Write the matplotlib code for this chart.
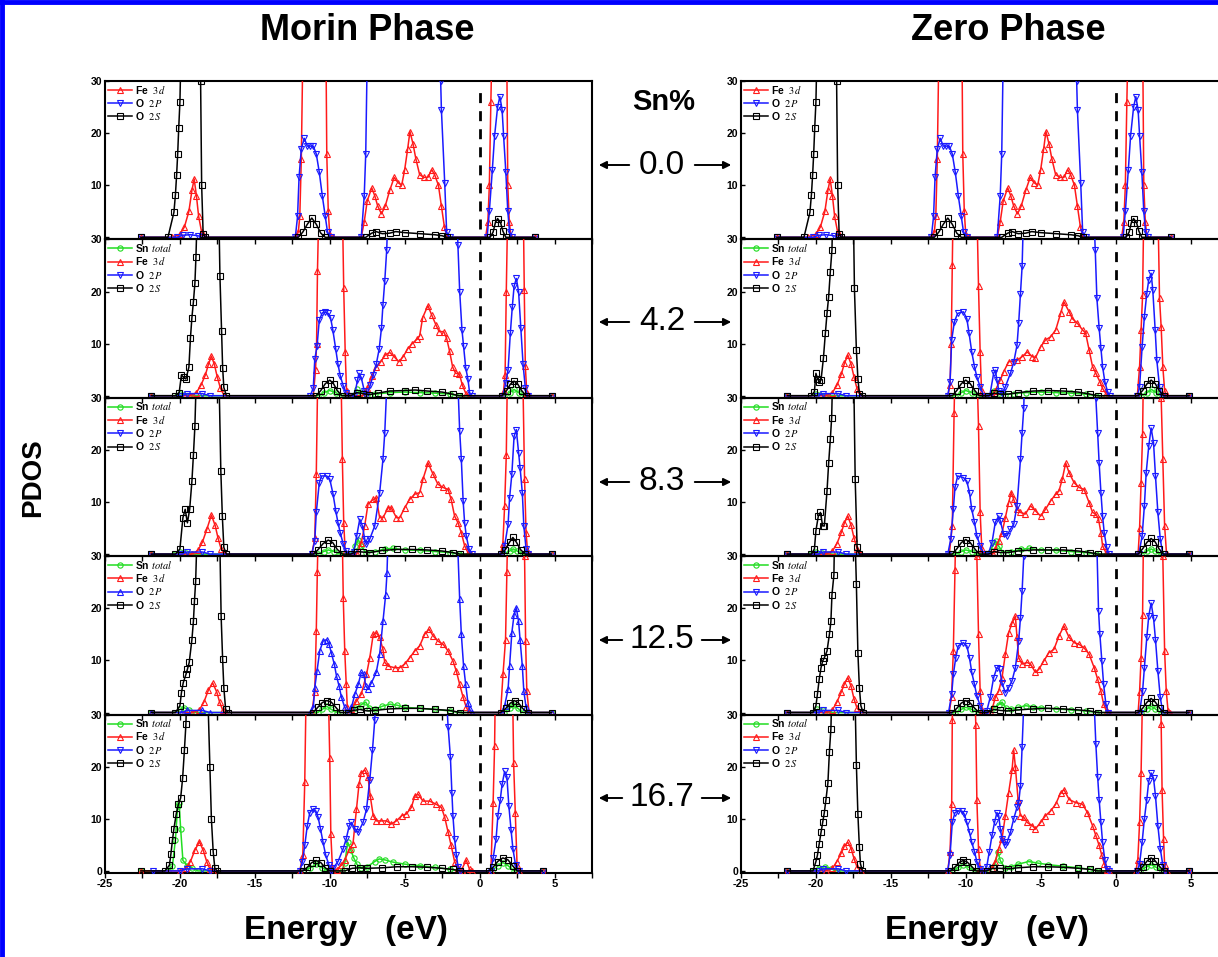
import matplotlib
matplotlib.use('Agg')
import matplotlib.pyplot as plt
from matplotlib.patches import FancyArrowPatch
from matplotlib.lines import Line2D

plt.rcParams['font.family'] = ['Liberation Sans', 'DejaVu Sans']
plt.rcParams['mathtext.fontset'] = 'stix'

# ---- data: (energy eV, PDOS); >30 means off scale ----
# Morin phase, 0.0 % Sn
m00_fe = [(-22.6,0),(-20.5,0),(-20.0,0.6),(-19.7,2),(-19.4,5),(-19.2,9),(-19.05,11.2),(-18.9,8),(-18.75,4),(-18.55,1),(-18.3,0),
          (-12.3,0),(-12.1,1),(-12.0,4),(-11.9,15),(-11.8,35),(-11.5,60),(-10.5,60),(-10.25,35),(-10.2,16),(-10.1,5),(-10.0,0.5),(-9.8,0),
          (-7.9,0),(-7.7,3),(-7.5,7),(-7.2,9.5),(-7.0,8),(-6.8,6),(-6.55,4.5),(-6.3,6),(-6.0,9),(-5.7,11.5),(-5.45,10.5),(-5.2,10),
          (-5.0,13),(-4.8,17),(-4.65,20.3),(-4.45,18),(-4.25,15),(-4.0,12),(-3.7,11.5),(-3.45,11.5),(-3.2,13),(-3.0,12),(-2.75,10),
          (-2.55,6),(-2.35,2),(-2.15,0),(0.4,0),(0.55,3),(0.65,10),(0.75,26),(0.85,40),(1.3,60),(1.8,40),(1.88,10),(1.98,3),(2.1,0),(3.7,0)]
m00_o2p = [(-22.6,0),(-20.2,0),(-19.8,0.4),(-19.3,0.5),(-18.8,0.3),(-18.5,0),(-12.3,0),(-12.15,4),(-12.05,11.5),(-11.9,17),(-11.7,19),
           (-11.5,17.5),(-11.3,17.5),(-11.1,17.5),(-10.9,16),(-10.7,12.5),(-10.5,8),(-10.3,4),(-10.15,1),(-9.9,0),(-7.9,0),(-7.7,8),
           (-7.6,16),(-7.5,35),(-7.2,60),(-3.0,60),(-2.6,30),(-2.55,24.5),(-2.33,10.5),(-2.2,1),(-2.0,0),(0.5,0),(0.65,5),(0.85,13),
           (1.0,19.5),(1.2,25),(1.35,27),(1.5,24.5),(1.6,19.5),(1.75,12.5),(1.88,5),(2.0,1),(2.15,0),(3.7,0)]
m00_o2s = [(-22.6,0),(-20.8,0),(-20.4,4.8),(-20.3,8.2),(-20.22,12),(-20.15,16),(-20.08,21),(-20.0,26),(-19.9,40),(-19.6,60),(-18.9,60),
           (-18.62,30),(-18.55,10),(-18.45,0.6),(-18.3,0),(-12.1,0),(-11.8,1),(-11.5,2.5),(-11.2,3.7),(-10.9,2.5),(-10.6,0.8),(-10.3,0),
           (-7.6,0),(-7.2,0.8),(-6.9,1.1),(-6.5,0.7),(-6.0,0.8),(-5.6,1.1),(-5.0,0.9),(-4.0,0.7),(-3.0,0.5),(-2.5,0.3),(-2.2,0),
           (0.7,0),(0.9,1),(1.05,2.8),(1.2,3.6),(1.4,2.8),(1.55,1.2),(1.75,0),(3.7,0)]

# Morin phase, 4.2 % Sn
m42_sn = [(-21.9,0),(-20.2,0),(-20.0,0.4),(-19.7,0.2),(-19.4,0),(-10.8,0),(-10.4,0.6),(-10.0,1.0),(-9.6,0.6),(-9.2,0),(-8.5,0),(-8.2,1.2),
          (-7.9,0.6),(-7.5,0.2),(-7.0,0.3),(-6.0,0.6),(-5.0,0.7),(-4.0,0.6),(-3.0,0.5),(-2.0,0.3),(-1.4,0),(1.6,0),(2.0,0.6),(2.3,1.2),
          (2.6,0.6),(3.0,0),(4.8,0)]
m42_fe = [(-21.9,0),(-19.3,0),(-18.9,0.6),(-18.6,2),(-18.3,4),(-18.1,6),(-17.9,7.6),(-17.7,6),(-17.5,3.5),(-17.3,1.5),(-17.05,0),
          (-11.1,0),(-10.95,5),(-10.88,10),(-10.82,24),(-10.7,40),(-10.3,60),(-9.4,60),(-9.15,35),(-9.07,20.7),(-8.97,8.3),(-8.88,1),
          (-8.7,0),(-7.8,0),(-7.5,1.5),(-7.2,3.8),(-6.9,5.5),(-6.6,6.5),(-6.3,7.8),(-6.0,8.3),(-5.7,7.5),(-5.4,6.5),(-5.1,7.5),(-4.8,9),
          (-4.5,10),(-4.2,10.8),(-4.0,11.5),(-3.8,15),(-3.45,17.3),(-3.2,15.5),(-2.9,13.5),(-2.7,12.3),(-2.4,12.3),(-2.2,11),(-2.0,8.5),
          (-1.8,5.5),(-1.6,4.3),(-1.35,4.2),(-1.15,2),(-0.9,0.3),(-0.7,0),(1.45,0),(1.6,1),(1.7,4),(1.78,20),(1.9,40),(2.3,60),(2.9,40),
          (2.98,20.3),(3.05,5.7),(3.15,0.5),(3.3,0),(4.8,0)]
m42_o2p = [(-21.9,0),(-19.9,0),(-19.5,0.4),(-18.5,0.4),(-18.0,0),(-11.3,0),(-11.1,1.5),(-11.0,7),(-10.85,9.5),(-10.7,14.5),(-10.5,15.9),
           (-10.3,16),(-10.1,15.8),(-9.95,15),(-9.8,12.7),(-9.6,8.9),(-9.45,6),(-9.3,3.8),(-9.1,1.9),(-8.9,0.5),(-8.6,0),(-8.35,0),
           (-8.15,3),(-8.05,4.3),(-7.9,3.5),(-7.7,1),(-7.55,0),(-7.3,2),(-7.1,4),(-6.9,6),(-6.7,9),(-6.55,13),(-6.45,17.5),(-6.33,22),
           (-6.2,28),(-6.0,45),(-5.5,60),(-2.0,60),(-1.55,40),(-1.45,29),(-1.33,20),(-1.18,12.7),(-1.07,9.5),(-0.93,5.4),(-0.78,3.2),
           (-0.67,0.6),(-0.5,0),(1.55,0),(1.75,2.5),(1.9,5),(2.05,12),(2.18,17),(2.3,21),(2.45,22.5),(2.6,20),(2.75,13),(2.9,6),
           (3.05,1.5),(3.2,0),(4.8,0)]
m42_o2s = [(-21.9,0),(-20.3,0),(-20.05,0.6),(-19.9,4),(-19.75,3.5),(-19.6,3.2),(-19.4,5.5),(-19.3,11),(-19.2,15),(-19.1,18),(-19.0,21.6),
           (-18.93,26.7),(-18.8,40),(-18.5,60),(-17.6,60),(-17.4,35),(-17.33,23),(-17.22,12.4),(-17.15,5.4),(-17.07,1.6),(-16.9,0),
           (-10.9,0),(-10.6,1),(-10.3,2.3),(-10.0,3),(-9.75,2.3),(-9.5,1),(-9.2,0),(-8.6,0),(-8.2,0.6),(-7.8,0.4),(-7.4,0.2),(-6.8,0.5),
           (-6.0,0.9),(-5.0,1.0),(-4.3,1.1),(-3.5,0.9),(-2.5,0.7),(-1.8,0.3),(-1.4,0),(1.5,0),(1.8,1),(2.05,2.2),(2.3,2.8),(2.55,2.2),
           (2.8,1),(3.1,0),(4.8,0)]

# Morin phase, 8.3 % Sn
m83_sn = [(-21.9,0),(-20.3,0),(-20.0,0.5),(-19.6,0.2),(-19.2,0),(-10.8,0),(-10.4,0.5),(-10.1,0.8),(-9.7,0.5),(-9.3,0),(-8.6,0),(-8.3,1.5),
          (-8.1,2.8),(-7.9,1.5),(-7.6,0.3),(-7.0,0.5),(-6.3,1.0),(-5.8,1.1),(-5.0,0.8),(-4.0,0.7),(-3.0,0.5),(-2.0,0.3),(-1.4,0),(1.6,0),
          (2.0,0.6),(2.25,1.0),(2.5,0.6),(2.9,0),(4.8,0)]
m83_fe = [(-21.9,0),(-19.2,0),(-18.8,0.7),(-18.5,2.3),(-18.2,4.8),(-17.9,7.5),(-17.65,5.5),(-17.45,3),(-17.25,1),(-17.0,0),(-11.2,0),
          (-11.0,3),(-10.9,15.3),(-10.8,35),(-10.5,60),(-9.5,60),(-9.25,35),(-9.16,18.2),(-9.07,6),(-8.97,0.5),(-8.8,0),(-8.2,0),
          (-7.9,2.2),(-7.67,5.4),(-7.45,9.6),(-7.1,10.5),(-6.9,10.8),(-6.67,7),(-6.45,7),(-6.1,8.9),(-5.9,8.9),(-5.55,7),(-5.33,7),
          (-5.0,8.9),(-4.67,10.5),(-4.33,11.5),(-4.0,11.8),(-3.78,14.4),(-3.44,17.5),(-3.1,15.3),(-2.78,13.4),(-2.44,12.8),(-2.1,12.4),
          (-1.9,10.5),(-1.67,7.3),(-1.44,6),(-1.22,4.1),(-1.0,1.6),(-0.78,0.3),(-0.6,0),(1.4,0),(1.55,2),(1.67,9.3),(1.78,19),(1.88,40),
          (2.3,60),(2.85,40),(3.0,14.4),(3.1,4.1),(3.2,0.5),(3.35,0),(4.8,0)]
m83_o2p = [(-21.9,0),(-19.9,0),(-19.5,0.4),(-18.5,0.4),(-18.0,0),(-11.2,0),(-11.0,2.6),(-10.9,8),(-10.7,13.7),(-10.55,15),(-10.2,15),
           (-10.0,14.4),(-9.78,11.5),(-9.6,8.3),(-9.45,6),(-9.3,4.1),(-9.1,1.9),(-8.9,0.6),(-8.6,0),(-8.4,0.5),(-8.2,3.5),(-8.0,6.7),
           (-7.82,5.4),(-7.67,2.9),(-7.55,1.9),(-7.33,2.9),(-7.0,5.4),(-6.67,11.8),(-6.45,18.2),(-6.33,23.3),(-6.2,32),(-6.0,60),
           (-1.8,60),(-1.44,32),(-1.33,23.6),(-1.22,18.2),(-1.1,10.2),(-1.0,6),(-0.89,3.5),(-0.71,1),(-0.5,0),(1.5,0),(1.67,1.6),
           (1.9,5.7),(2.0,10.8),(2.15,15.3),(2.3,22.6),(2.45,23.9),(2.6,19.5),(2.7,16.6),(2.85,11.8),(2.95,5.4),(3.1,1),(3.2,0),(4.8,0)]
m83_o2s = [(-21.9,0),(-20.3,0),(-20.0,1),(-19.8,7),(-19.65,8.6),(-19.5,6),(-19.35,8.6),(-19.2,14),(-19.1,19),(-19.0,24.6),(-18.85,40),
           (-18.5,60),(-17.6,60),(-17.4,35),(-17.27,16),(-17.17,7.3),(-17.07,1.3),(-16.9,0),(-11.1,0),(-10.8,0.8),(-10.45,2),(-10.1,2.7),
           (-9.8,2.2),(-9.5,0.9),(-9.15,0),(-8.6,0),(-8.2,0.5),(-7.8,0.4),(-7.3,0.3),(-6.5,0.7),(-5.5,0.9),(-4.5,0.9),(-3.5,0.8),
           (-2.5,0.6),(-1.8,0.3),(-1.3,0),(1.4,0),(1.7,0.8),(2.0,2.3),(2.22,3.2),(2.45,2.3),(2.75,0.8),(3.05,0),(4.8,0)]

# Morin phase, 12.5 % Sn
m125_sn = [(-21.9,0),(-20.3,0),(-20.0,0.6),(-19.7,0.9),(-19.4,0.5),(-19.0,0),(-10.8,0),(-10.5,0.6),(-10.2,1.2),(-9.9,0.6),(-9.5,0),
           (-8.8,0),(-8.3,0.8),(-7.9,1.5),(-7.6,2),(-7.35,0.8),(-7.0,0.6),(-6.5,1.2),(-6.0,1.6),(-5.5,1.4),(-5.0,1.0),(-4.0,0.8),
           (-3.0,0.6),(-2.0,0.3),(-1.4,0),(1.6,0),(2.0,0.8),(2.25,1.4),(2.55,0.8),(2.9,0),(4.8,0)]
m125_fe = [(-21.9,0),(-19.2,0),(-18.7,0.5),(-18.4,2),(-18.1,4.3),(-17.82,5.7),(-17.55,4),(-17.35,2),(-17.15,0.5),(-17.0,0),(-11.2,0),
           (-11.0,4),(-10.9,15.6),(-10.83,27),(-10.7,45),(-10.4,60),(-9.4,60),(-9.17,35),(-9.1,22),(-9.0,11.8),(-8.9,5.4),(-8.83,1),
           (-8.7,0),(-8.55,0.6),(-8.22,2.2),(-7.9,3.5),(-7.55,7.3),(-7.33,10.5),(-7.1,15),(-6.9,15.3),(-6.67,14.4),(-6.45,12.1),
           (-6.33,9.6),(-6.1,8.9),(-5.67,8.6),(-5.33,8.6),(-5.0,9.3),(-4.67,10.5),(-4.33,11.8),(-4.0,12.8),(-3.67,15),(-3.38,16),
           (-3.1,14.7),(-2.78,13.7),(-2.44,13.1),(-2.1,11.8),(-1.78,9.9),(-1.56,8),(-1.33,5.4),(-1.1,2.9),(-0.89,1),(-0.7,0),(1.4,0),
           (1.56,7.3),(1.73,14),(1.82,27),(1.95,45),(2.4,60),(2.9,45),(3.0,30),(3.07,13.7),(3.15,4.1),(3.3,0),(4.8,0)]
m125_o2p = [(-21.9,0),(-19.9,0),(-19.5,0.4),(-18.5,0.4),(-18.0,0),(-11.3,0),(-11.1,1),(-11.0,4.8),(-10.85,8),(-10.67,11.8),(-10.45,13.7),
            (-10.2,14),(-10.05,13.1),(-9.9,11.5),(-9.7,9.3),(-9.55,7),(-9.38,5.1),(-9.22,2.9),(-9.0,1),(-8.8,0),(-8.55,1),(-8.33,3.5),
            (-8.1,5.4),(-7.9,7.7),(-7.73,7.4),(-7.6,5.1),(-7.45,4.5),(-7.22,5.7),(-6.9,7.7),(-6.67,11.2),(-6.45,17.5),(-6.27,22.6),
            (-6.18,26.8),(-6.0,45),(-5.6,60),(-1.9,60),(-1.5,35),(-1.33,21.7),(-1.22,15),(-1.07,8.9),(-0.93,5.4),(-0.78,1.9),(-0.67,0.6),
            (-0.5,0),(1.5,0),(1.67,1.3),(1.9,4.5),(2.0,8.9),(2.15,15.3),(2.3,18.8),(2.45,20.1),(2.6,17.5),(2.7,14),(2.85,8.9),(2.95,4.1),
            (3.1,1),(3.25,0),(4.8,0)]
m125_o2s = [(-21.9,0),(-20.3,0),(-20.0,1.3),(-19.9,3.8),(-19.78,5.7),(-19.6,7.3),(-19.5,8.3),(-19.38,9.6),(-19.2,14),(-19.1,17.5),
            (-19.03,21.4),(-18.95,25.2),(-18.8,40),(-18.5,60),(-17.6,60),(-17.35,35),(-17.25,18.5),(-17.15,10.2),(-17.07,4.8),
            (-16.95,0.6),(-16.8,0),(-11.1,0),(-10.8,1),(-10.5,1.9),(-10.2,2.3),(-9.9,2),(-9.6,1),(-9.3,0),(-8.8,0),(-8.4,0.4),(-8.0,0.6),
            (-7.5,0.3),(-7.0,0.4),(-6.0,0.7),(-5.0,0.8),(-4.0,0.8),(-3.0,0.6),(-2.0,0.4),(-1.3,0),(1.4,0),(1.75,0.8),(2.05,1.8),
            (2.33,2.3),(2.6,1.8),(2.9,0.7),(3.2,0),(4.8,0)]

# Morin phase, 16.7 % Sn
m167_sn = [(-22.6,0),(-20.8,0),(-20.5,1),(-20.3,6),(-20.15,12.5),(-20.05,13),(-19.95,8),(-19.8,2),(-19.5,1),(-19.2,0.6),(-18.8,0),
           (-11.8,0),(-11.3,0.6),(-10.9,1.3),(-10.5,0.6),(-10.1,0),(-9.2,0),(-9.0,1.5),(-8.8,5.5),(-8.6,4),(-8.4,2.5),(-8.2,1.3),
           (-7.9,0.5),(-7.5,0.8),(-7.0,1.8),(-6.7,2.3),(-6.3,2.1),(-5.8,1.7),(-5.0,1.3),(-4.0,1.0),(-3.0,0.7),(-2.0,0.3),(-1.4,0),
           (0.8,0),(1.2,1),(1.55,1.6),(1.9,1),(2.3,0),(4.2,0)]
m167_fe = [(-22.6,0),(-20.0,0),(-19.6,0.5),(-19.3,1.8),(-19.0,4),(-18.7,5.6),(-18.45,4),(-18.2,1.7),(-18.0,0.4),(-17.8,0),(-12.0,0),
           (-11.8,3),(-11.67,17),(-11.55,40),(-11.3,60),(-10.3,60),(-10.1,35),(-10.0,21.6),(-9.93,7.1),(-9.82,0.5),(-9.55,0.2),
           (-9.22,1.1),(-9.0,2.1),(-8.67,4.3),(-8.45,5.2),(-8.22,11.8),(-8.05,16.6),(-7.9,18.8),(-7.67,19.4),(-7.45,18.1),(-7.3,14.4),
           (-7.1,10.6),(-6.9,9.6),(-6.55,9.6),(-6.2,9.6),(-5.9,9),(-5.55,9.6),(-5.2,10.6),(-4.9,10.9),(-4.55,12.2),(-4.33,14.4),
           (-4.1,14.7),(-3.78,13.4),(-3.33,13.4),(-2.9,12.8),(-2.55,12.2),(-2.33,10.3),(-2.1,7.4),(-1.9,4.9),(-1.67,1.8),(-1.44,0.5),
           (-1.2,0.2),(-0.9,2.1),(-0.67,0.3),(-0.5,0),(0.75,0),(0.9,13),(1.0,24),(1.07,40),(1.3,60),(2.0,60),(2.2,35),(2.27,20.7),
           (2.38,11.2),(2.5,1.1),(2.6,0),(4.2,0)]
m167_o2p = [(-21.8,0),(-20.0,0),(-19.5,0.4),(-18.5,0.4),(-18.0,0),(-12.0,0),(-11.82,1.8),(-11.67,4.9),(-11.5,8.7),(-11.33,11.2),
            (-11.15,11.8),(-10.93,11.5),(-10.78,10.3),(-10.62,8.1),(-10.45,5.5),(-10.27,3),(-10.05,1.1),(-9.9,0),(-9.78,0.5),(-9.45,1.8),
            (-9.1,4.3),(-8.9,6.2),(-8.7,8.7),(-8.55,9.3),(-8.33,8.1),(-8.1,7.4),(-7.78,9.3),(-7.55,11.8),(-7.33,17.5),(-7.15,23.2),
            (-7.0,28.9),(-6.8,45),(-6.5,60),(-2.6,60),(-2.25,35),(-2.1,27.6),(-1.95,21.9),(-1.85,15),(-1.78,10.6),(-1.67,6.2),(-1.55,3),
            (-1.44,0.8),(-1.3,0),(0.75,0),(0.9,2.4),(1.1,6.2),(1.22,10.6),(1.38,13.7),(1.5,16.6),(1.67,19.1),(1.82,18.1),(1.95,12.5),
            (2.1,7.8),(2.22,4.3),(2.4,1.1),(2.6,0),(4.2,0)]
m167_o2s = [(-22.6,0),(-21.0,0),(-20.7,1.1),(-20.6,3.3),(-20.5,5.9),(-20.4,8.1),(-20.25,10.9),(-20.1,12.8),(-19.95,14),(-19.82,17.8),
            (-19.7,23.2),(-19.6,28.2),(-19.45,45),(-19.2,60),(-18.4,60),(-18.15,35),(-18.0,20),(-17.9,10),(-17.78,3.7),(-17.67,0.5),
            (-17.5,0),(-11.8,0),(-11.5,0.7),(-11.2,1.6),(-10.9,2.0),(-10.6,1.6),(-10.3,0.6),(-10.0,0),(-9.0,0),(-8.5,0.5),(-8.0,0.6),
            (-7.5,0.5),(-6.5,0.6),(-5.5,0.8),(-4.5,0.8),(-3.5,0.7),(-2.5,0.5),(-1.8,0.3),(-1.3,0),(0.6,0),(0.9,0.7),(1.2,1.8),(1.55,2.5),
            (1.9,2.1),(2.2,1),(2.5,0),(4.2,0)]

# Zero phase, 0.0 % Sn (read the same as the Morin panel)
z00_fe, z00_o2p, z00_o2s = m00_fe, m00_o2p, m00_o2s

# Zero phase, 4.2 % Sn
z42_sn = [(-21.9,0),(-20.2,0),(-20.0,0.4),(-19.7,0.2),(-19.4,0),(-10.7,0),(-10.3,0.6),(-10.0,1.0),(-9.6,0.6),(-9.2,0),(-8.5,0),(-8.1,1.0),
          (-7.8,0.5),(-7.4,0.2),(-6.8,0.4),(-6.0,0.6),(-5.0,0.7),(-4.0,0.6),(-3.0,0.5),(-2.0,0.3),(-1.3,0),(1.7,0),(2.1,0.6),(2.4,1.2),
          (2.7,0.6),(3.1,0),(4.9,0)]
z42_fe = [(-21.9,0),(-19.3,0),(-18.9,0.6),(-18.6,2),(-18.3,4.2),(-18.1,6.2),(-17.87,7.8),(-17.65,6),(-17.45,3.5),(-17.25,1.3),(-17.0,0),
          (-11.2,0),(-11.05,2),(-10.97,10),(-10.9,25),(-10.8,45),(-10.5,60),(-9.5,60),(-9.25,35),(-9.15,21),(-9.04,8.3),(-8.95,1),
          (-8.8,0),(-8.2,0),(-8.03,1),(-7.7,3),(-7.47,4.6),(-7.14,6.5),(-6.58,6.8),(-6.24,7.5),(-5.9,8.4),(-5.57,7.5),(-5.35,7.3),
          (-5.0,9.4),(-4.68,10.7),(-4.34,11.3),(-4.0,12.6),(-3.67,15.8),(-3.45,18),(-3.1,16.1),(-2.89,14.8),(-2.55,13.9),(-2.2,12.6),
          (-2.0,12),(-1.77,8.8),(-1.54,5.6),(-1.32,4.3),(-1.05,2.7),(-0.87,1.4),(-0.65,0.4),(-0.5,0),(1.45,0),(1.6,5.6),(1.7,12.6),
          (1.8,19.3),(1.9,40),(2.3,60),(2.8,40),(2.93,18.7),(3.04,13.2),(3.15,5.6),(3.27,1),(3.4,0),(4.9,0)]
z42_o2p = [(-21.9,0),(-19.9,0),(-19.5,0.4),(-18.5,0.4),(-18.0,0),(-11.2,0),(-11.05,2.7),(-10.94,10.7),(-10.76,14.2),(-10.54,15.8),
           (-10.16,16.1),(-9.93,14.8),(-9.78,12),(-9.6,8.4),(-9.42,5.6),(-9.26,3.6),(-9.04,1.7),(-8.8,0),(-8.4,0),(-8.14,4.3),(-8.03,4.9),
           (-7.92,3),(-7.8,1),(-7.58,0.5),(-7.36,1.7),(-7.02,4.3),(-6.8,6.4),(-6.58,9.7),(-6.47,13.9),(-6.35,19.6),(-6.24,24.8),
           (-6.1,40),(-5.8,60),(-1.8,60),(-1.45,35),(-1.36,28),(-1.25,18.7),(-1.1,13),(-0.98,9.1),(-0.87,5.6),(-0.72,2.7),(-0.54,0.8),
           (-0.4,0),(1.45,0),(1.6,1.7),(1.77,9.4),(1.92,15.2),(2.08,19.6),(2.21,22.2),(2.37,23.5),(2.48,20.3),(2.64,12.6),(2.75,6.8),
           (2.93,1.7),(3.1,0),(4.9,0)]
z42_o2s = [(-21.9,0),(-20.3,0),(-20.1,0.8),(-20.0,4.3),(-19.9,3.3),(-19.78,2.7),(-19.66,3),(-19.5,7.2),(-19.37,12),(-19.26,15.8),
           (-19.15,19),(-19.04,23.8),(-18.93,28),(-18.8,45),(-18.5,60),(-17.7,60),(-17.5,35),(-17.43,20.6),(-17.3,8.8),(-17.2,3.3),
           (-17.1,0.4),(-16.9,0),(-10.9,0),(-10.6,1),(-10.3,2.3),(-10.0,3),(-9.7,2.3),(-9.4,1),(-9.1,0),(-8.5,0),(-8.1,0.5),(-7.7,0.3),
           (-7.2,0.3),(-6.5,0.6),(-5.5,0.9),(-4.5,1.0),(-3.5,0.9),(-2.5,0.7),(-1.7,0.3),(-1.2,0),(1.5,0),(1.8,1),(2.1,2.3),(2.37,3),
           (2.65,2.3),(2.9,1),(3.2,0),(4.9,0)]

# Zero phase, 8.3 % Sn
z83_sn = [(-21.9,0),(-20.3,0),(-20.0,0.5),(-19.6,0.2),(-19.2,0),(-10.7,0),(-10.3,0.5),(-10.0,0.8),(-9.6,0.5),(-9.2,0),(-8.6,0),(-8.2,1.5),
          (-8.0,2.5),(-7.8,1.5),(-7.5,0.3),(-7.0,0.5),(-6.3,0.9),(-5.8,1.1),(-5.0,0.8),(-4.0,0.7),(-3.0,0.5),(-2.0,0.3),(-1.3,0),(1.7,0),
          (2.1,0.6),(2.37,1.0),(2.65,0.6),(3.0,0),(4.9,0)]
z83_fe = [(-21.9,0),(-19.3,0),(-18.9,0.6),(-18.6,2),(-18.3,4.2),(-18.1,6),(-17.87,7.3),(-17.65,5.5),(-17.45,3),(-17.25,1),(-17.0,0),
          (-11.1,0),(-10.9,5.4),(-10.78,27),(-10.65,45),(-10.4,60),(-9.5,60),(-9.25,35),(-9.15,24.6),(-9.04,8),(-8.93,1),(-8.8,0),
          (-8.2,0),(-8.03,1),(-7.8,2.6),(-7.58,4.1),(-7.36,7),(-7.14,9.9),(-6.96,11.8),(-6.8,10.5),(-6.58,8.6),(-6.35,8),(-6.02,7.7),
          (-5.68,9.3),(-5.35,8.3),(-5.0,7.3),(-4.68,8.6),(-4.34,10.2),(-4.0,11.5),(-3.78,12.1),(-3.56,14.4),(-3.33,17.5),(-3.1,15.6),
          (-2.77,13.7),(-2.44,12.8),(-2.1,12.4),(-1.77,9.9),(-1.54,8),(-1.32,7.7),(-1.14,6.7),(-0.98,4.1),(-0.87,1.6),(-0.65,0.3),
          (-0.5,0),(1.5,0),(1.6,5),(1.7,13.7),(1.8,23),(1.9,45),(2.3,60),(2.95,45),(3.04,30),(3.15,18.2),(3.27,5.4),(3.4,0),(4.9,0)]
z83_o2p = [(-21.9,0),(-19.9,0),(-19.5,0.4),(-18.5,0.4),(-18.0,0),(-11.2,0),(-11.0,2.9),(-10.83,8.6),(-10.72,12.8),(-10.54,15),
           (-10.16,14.7),(-9.93,14),(-9.75,11.8),(-9.6,8.6),(-9.42,6.1),(-9.26,3.5),(-9.04,1.6),(-8.8,0),(-8.5,0),(-8.25,2.2),(-8.03,6.1),
           (-7.8,7.3),(-7.7,6.4),(-7.47,3.8),(-7.25,3.5),(-7.02,4.8),(-6.8,5.7),(-6.58,9.3),(-6.35,18.2),(-6.24,23.3),(-6.13,28),
           (-6.0,45),(-5.7,60),(-1.7,60),(-1.4,35),(-1.32,30),(-1.2,23.3),(-1.1,17.5),(-0.98,11.8),(-0.87,7.3),(-0.76,4.1),(-0.6,1.3),
           (-0.45,0),(1.55,0),(1.77,3.5),(1.92,9.3),(2.04,15.6),(2.21,20.7),(2.37,24.2),(2.53,21.4),(2.66,15),(2.82,8),(2.98,2.9),
           (3.15,0),(4.9,0)]
z83_o2s = [(-21.9,0),(-20.3,0),(-20.1,1),(-20.0,4.5),(-19.84,7.3),(-19.7,8),(-19.55,5.4),(-19.44,5.4),(-19.26,12.1),(-19.15,17.5),
           (-19.04,22),(-18.95,26.2),(-18.8,45),(-18.5,60),(-17.7,60),(-17.48,35),(-17.38,14.4),(-17.25,1.3),(-17.1,0),(-10.9,0),
           (-10.6,1),(-10.3,2.2),(-10.0,2.8),(-9.7,2.2),(-9.4,1),(-9.1,0),(-8.5,0),(-8.1,0.5),(-7.7,0.3),(-7.2,0.3),(-6.5,0.6),(-5.5,0.8),
           (-4.5,0.8),(-3.5,0.8),(-2.5,0.6),(-1.7,0.3),(-1.2,0),(1.5,0),(1.8,1),(2.1,2.3),(2.37,3),(2.65,2.3),(2.9,1),(3.2,0),(4.9,0)]

# Zero phase, 12.5 % Sn
z125_sn = [(-21.9,0),(-20.2,0),(-19.9,0.6),(-19.5,0.4),(-19.1,0),(-10.7,0),(-10.3,0.6),(-10.0,1.0),(-9.6,0.6),(-9.2,0),(-8.6,0),(-8.2,0.8),
           (-7.8,1.5),(-7.58,2),(-7.3,0.8),(-7.0,0.6),(-6.5,1.0),(-6.0,1.3),(-5.5,1.1),(-5.0,0.9),(-4.0,0.7),(-3.0,0.5),(-2.0,0.3),
           (-1.3,0),(1.7,0),(2.1,0.7),(2.37,1.2),(2.65,0.7),(3.0,0),(4.9,0)]
z125_fe = [(-21.9,0),(-19.3,0),(-18.9,0.5),(-18.6,2),(-18.3,4),(-18.1,5.5),(-17.87,6.7),(-17.65,5),(-17.45,2.5),(-17.25,0.8),(-17.0,0),
           (-11.1,0),(-10.95,3),(-10.83,11.8),(-10.72,27.3),(-10.6,45),(-10.3,60),(-9.6,60),(-9.35,35),(-9.26,30),(-9.15,15),(-9.04,4.1),
           (-8.93,0.5),(-8.8,0),(-8.3,0),(-8.03,2.9),(-7.8,4.1),(-7.58,6.7),(-7.36,11.2),(-7.14,15.3),(-6.91,17.2),(-6.69,18.5),
           (-6.58,14.4),(-6.47,10.5),(-6.24,9.3),(-5.9,9.6),(-5.68,9.3),(-5.35,7.7),(-5.12,8.3),(-4.79,9.9),(-4.45,11.5),(-4.12,12.1),
           (-3.78,14.7),(-3.45,16.6),(-3.1,14.4),(-2.77,13.4),(-2.44,13.1),(-2.1,12.4),(-1.77,11.2),(-1.43,8.6),(-1.2,6.4),(-0.98,4.1),
           (-0.8,1.6),(-0.6,0.2),(-0.45,0),(1.5,0),(1.6,4),(1.7,10.5),(1.8,18.8),(1.9,45),(2.3,60),(3.0,45),(3.15,30),(3.27,11.8),
           (3.38,4.1),(3.5,0.3),(3.6,0),(4.9,0)]
z125_o2p = [(-21.9,0),(-19.9,0),(-19.5,0.4),(-18.5,0.4),(-18.0,0),(-11.15,0),(-10.94,3.5),(-10.83,7.3),(-10.67,10.5),(-10.5,12.8),
            (-10.16,13.4),(-9.93,12.8),(-9.75,10.5),(-9.6,7.7),(-9.42,5.4),(-9.26,3.2),(-9.04,1.3),(-8.8,0),(-8.6,0.3),(-8.37,2.9),
            (-8.14,6.7),(-7.92,8.6),(-7.74,8.3),(-7.58,5.7),(-7.36,3.8),(-7.14,4.8),(-6.91,6.1),(-6.69,8.6),(-6.47,13.7),(-6.35,18.2),
            (-6.24,23.3),(-6.13,30),(-5.9,60),(-1.6,60),(-1.25,32),(-1.14,19.5),(-1.05,15),(-0.92,9.9),(-0.8,5.4),(-0.65,1.6),(-0.5,0),
            (1.6,0),(1.8,4.1),(1.92,8.6),(2.08,14.4),(2.21,18.5),(2.37,21),(2.53,18.2),(2.66,14),(2.82,8),(2.98,2.9),(3.15,0),(4.9,0)]
z125_o2s = [(-21.9,0),(-20.2,0),(-20.0,1.3),(-19.9,3.5),(-19.78,6.4),(-19.66,8.6),(-19.55,9.9),(-19.44,10.5),(-19.26,11.8),(-19.1,15),
            (-19.0,17.5),(-18.93,22.6),(-18.8,26.4),(-18.7,45),(-18.4,60),(-17.6,60),(-17.4,35),(-17.3,24.6),(-17.2,11.5),(-17.1,4.8),
            (-17.0,1.3),(-16.85,0),(-10.9,0),(-10.6,0.8),(-10.3,1.8),(-10.0,2.3),(-9.7,1.8),(-9.4,0.8),(-9.1,0),(-8.6,0),(-8.1,0.6),
            (-7.7,0.4),(-7.2,0.3),(-6.5,0.5),(-5.5,0.7),(-4.5,0.8),(-3.5,0.7),(-2.5,0.5),(-1.7,0.3),(-1.2,0),(1.5,0),(1.8,0.8),(2.1,2),
            (2.37,2.7),(2.65,2),(2.95,0.8),(3.2,0),(4.9,0)]

# Zero phase, 16.7 % Sn
z167_sn = [(-21.9,0),(-20.2,0),(-19.8,0.6),(-19.4,0.8),(-19.0,0.4),(-18.6,0),(-10.9,0),(-10.5,0.7),(-10.16,1.2),(-9.8,0.7),(-9.4,0),
           (-8.5,0),(-8.1,1),(-7.85,3.7),(-7.7,2),(-7.4,0.6),(-7.0,0.8),(-6.5,1.3),(-5.8,1.8),(-5.2,1.5),(-4.5,1.2),(-3.5,0.9),
           (-2.5,0.6),(-1.7,0.3),(-1.2,0),(1.6,0),(2.0,0.7),(2.37,1.2),(2.7,0.7),(3.1,0),(4.9,0)]
z167_fe = [(-21.9,0),(-19.3,0),(-18.9,0.5),(-18.6,1.8),(-18.3,3.5),(-18.1,4.8),(-17.87,5.5),(-17.65,4.3),(-17.45,2.3),(-17.25,0.7),
           (-17.0,0),(-11.2,0),(-11.05,3.7),(-10.94,12.8),(-10.9,28.9),(-10.8,45),(-10.5,60),(-9.6,60),(-9.4,35),(-9.33,28),
           (-9.26,13.7),(-9.15,4.3),(-9.04,0.5),(-8.9,0),(-8.25,0.5),(-8.03,1.8),(-7.8,4.3),(-7.58,6.2),(-7.36,10.6),(-7.14,15),
           (-6.91,19.4),(-6.8,23.2),(-6.69,20),(-6.51,13.7),(-6.35,10.6),(-6.13,10.3),(-5.9,9.3),(-5.57,8.7),(-5.35,8.1),(-5.0,9.3),
           (-4.68,10.6),(-4.34,11.5),(-4.0,12.8),(-3.67,15),(-3.45,15.6),(-3.1,13.7),(-2.66,13.1),(-2.21,12.8),(-1.88,11.2),(-1.54,8.7),
           (-1.32,6.8),(-1.1,4.9),(-0.92,3),(-0.76,1.4),(-0.6,0.2),(-0.45,0),(1.35,0),(1.48,2.1),(1.6,9.3),(1.7,18.8),(1.8,35),
           (2.1,60),(2.8,60),(3.0,35),(3.04,28.2),(3.1,15.6),(3.2,6.2),(3.27,1.1),(3.4,0),(4.9,0)]
z167_o2p = [(-21.9,0),(-19.9,0),(-19.5,0.4),(-18.5,0.4),(-18.0,0),(-11.2,0),(-11.05,3),(-10.9,9.3),(-10.72,11.2),(-10.5,11.5),
            (-10.27,11.5),(-10.1,10.9),(-9.93,9.3),(-9.75,7.4),(-9.6,5.5),(-9.42,3.7),(-9.26,1.8),(-9.04,0.3),(-8.8,0),(-8.6,0.8),
            (-8.43,3.7),(-8.25,6.8),(-8.08,9.3),(-7.92,11.2),(-7.8,10.6),(-7.7,8.1),(-7.58,6.2),(-7.4,4.9),(-7.25,5.5),(-7.02,7.4),
            (-6.8,10),(-6.58,12.2),(-6.47,13.1),(-6.35,16.3),(-6.24,23.8),(-6.13,32),(-5.9,60),(-1.8,60),(-1.43,32),(-1.32,24.4),
            (-1.2,18.1),(-1.1,13.7),(-0.98,9.3),(-0.87,5.5),(-0.72,2.1),(-0.58,0.3),(-0.45,0),(1.45,0),(1.6,1.4),(1.77,5.5),(1.92,10),
            (2.08,13.7),(2.21,17.2),(2.37,18.8),(2.53,17.8),(2.66,14.4),(2.82,8.7),(2.98,4.3),(3.15,1.1),(3.3,0),(4.9,0)]
z167_o2s = [(-21.9,0),(-20.2,0),(-20.0,1.8),(-19.9,3),(-19.78,5.2),(-19.66,7.4),(-19.55,9.3),(-19.44,11.2),(-19.33,13.7),(-19.2,16.9),
            (-19.1,22.9),(-19.0,27.3),(-18.85,45),(-18.6,60),(-17.6,60),(-17.4,35),(-17.3,20.4),(-17.2,10.9),(-17.1,4.6),(-17.03,1.4),
            (-16.9,0),(-11.0,0),(-10.7,0.8),(-10.4,1.7),(-10.16,2),(-9.9,1.7),(-9.6,0.8),(-9.3,0),(-8.6,0),(-8.2,0.5),(-7.7,0.5),
            (-7.2,0.4),(-6.5,0.6),(-5.5,0.8),(-4.5,0.8),(-3.5,0.7),(-2.5,0.5),(-1.7,0.3),(-1.2,0),(1.5,0),(1.8,0.8),(2.1,1.9),
            (2.37,2.5),(2.65,1.9),(2.95,0.8),(3.2,0),(4.9,0)]

sn_levels = ['0.0', '4.2', '8.3', '12.5', '16.7']
morin = [(None, m00_fe, m00_o2p, m00_o2s, 'v'),
         (m42_sn, m42_fe, m42_o2p, m42_o2s, 'v'),
         (m83_sn, m83_fe, m83_o2p, m83_o2s, 'v'),
         (m125_sn, m125_fe, m125_o2p, m125_o2s, '^'),
         (m167_sn, m167_fe, m167_o2p, m167_o2s, 'v')]
zero = [(None, z00_fe, z00_o2p, z00_o2s, 'v'),
        (z42_sn, z42_fe, z42_o2p, z42_o2s, 'v'),
        (z83_sn, z83_fe, z83_o2p, z83_o2s, 'v'),
        (z125_sn, z125_fe, z125_o2p, z125_o2s, 'v'),
        (z167_sn, z167_fe, z167_o2p, z167_o2s, 'v')]

# ---- layout in pixels of the 1218x957 picture ----
W, H = 1218, 957
fig = plt.figure(figsize=(W / 100, H / 100), dpi=100)

def fx(px):
    return px / W

def fy(py):
    return 1 - py / H

top, ph = 81, 158.4
ax_w = 487
col_x = [105, 741]

GREEN, RED, BLUE = '#22dd22', '#ff1a1a', '#1a1aff'


def curve(ax, pts, color, marker, label, z):
    e = [p[0] for p in pts]
    v = [p[1] for p in pts]
    return ax.plot(e, v, color=color, lw=1.1, marker=marker, ms=3.8, mfc='none', mew=0.8,
                   label=label, zorder=z)[0]


def draw(ax, sn, fe, o2p, o2s, pmark, bottom):
    handles = []
    if sn is not None:
        handles.append(curve(ax, sn, GREEN, 'o', r'Sn $\mathit{total}$', 2))
    handles.append(curve(ax, fe, RED, '^', r'Fe  $\mathit{3d}$', 3))
    handles.append(curve(ax, o2p, BLUE, pmark, r'O  $\mathit{2P}$', 4))
    handles.append(curve(ax, o2s, 'black', 's', r'O  $\mathit{2S}$', 5))
    ax.plot([0, 0], [1.5, 29], color='black', lw=2, dashes=(3.6, 2.9), zorder=6)
    ax.set_xlim(-25, 7.5)
    ax.set_ylim(-0.4, 30)
    ax.set_facecolor('none')
    for s in ax.spines.values():
        s.set_linewidth(1.5)
    ticks = [-25 + 2.5 * i for i in range(14)]
    ax.set_xticks(ticks)
    ax.set_yticks([0, 10, 20, 30])
    if bottom:
        ax.set_xticklabels([f'{t:g}' if t % 5 == 0 else '' for t in ticks], fontsize=8, fontweight='bold')
        ax.set_yticklabels(['0', '10', '20', '30'], fontsize=7.5, fontweight='bold')
    else:
        ax.set_xticklabels([])
        ax.set_yticklabels(['', '10', '20', '30'], fontsize=7.5, fontweight='bold')
    ax.tick_params(axis='x', direction='out', length=3.5, width=1, pad=1)
    ax.tick_params(axis='y', direction='in', length=3, width=1, pad=2)
    ax.legend(handles=handles, loc='upper left', frameon=False, prop={'size': 7.5, 'weight': 'bold'},
              handlelength=2.3, handletextpad=0.3, labelspacing=0.12, borderaxespad=0.15, borderpad=0.1)


for col, panels in enumerate([morin, zero]):
    for row, (sn, fe, o2p, o2s, pmark) in enumerate(panels):
        y0 = top + ph * (row + 1)
        ax = fig.add_axes([fx(col_x[col]), fy(y0), ax_w / W, ph / H])
        draw(ax, sn, fe, o2p, o2s, pmark, row == 4)

# titles and axis words
title_font = ['DejaVu Sans Condensed', 'Liberation Sans Narrow', 'Liberation Sans', 'DejaVu Sans']
fig.text(fx(367), fy(31), 'Morin Phase', ha='center', va='center', fontsize=26, fontweight='bold',
         family=title_font, fontstretch='condensed')
fig.text(fx(1008), fy(31), 'Zero Phase', ha='center', va='center', fontsize=26, fontweight='bold',
         family=title_font, fontstretch='condensed')
fig.text(fx(664), fy(102), 'Sn%', ha='center', va='center', fontsize=21, fontweight='bold')
fig.text(fx(33), fy(478), 'PDOS', ha='center', va='center', rotation=90, fontsize=20, fontweight='bold')
fig.text(fx(346), fy(930), 'Energy   (eV)', ha='center', va='center', fontsize=24, fontweight='bold')
fig.text(fx(987), fy(930), 'Energy   (eV)', ha='center', va='center', fontsize=24, fontweight='bold')

# Sn content labels with arrows pointing to both panels
label_y = [165, 322, 482, 640, 798]
for lab, ly in zip(sn_levels, label_y):
    fig.text(fx(662), fy(ly), lab, ha='center', va='center', fontsize=24)
    half = 37 if len(lab) > 3 else 30
    for x0, x1 in [(662 - half, 596), (662 + half, 734)]:
        fig.add_artist(FancyArrowPatch((fx(x0), fy(ly)), (fx(x1), fy(ly)), transform=fig.transFigure,
                                       arrowstyle='-|>', mutation_scale=11, lw=1.4, color='black'))

# blue frame of the original figure
fig.add_artist(Line2D([0, 1], [fy(2), fy(2)], transform=fig.transFigure, color='#0000ff', lw=3.5))
fig.add_artist(Line2D([fx(2), fx(2)], [0, 1], transform=fig.transFigure, color='#0000ff', lw=3.5))

fig.savefig('out.png', dpi=100)
